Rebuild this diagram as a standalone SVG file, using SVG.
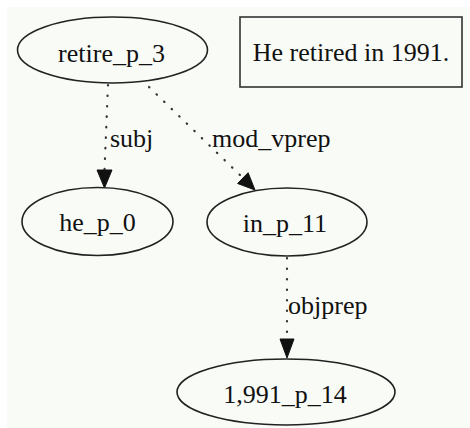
<svg xmlns="http://www.w3.org/2000/svg" width="470" height="428" viewBox="0 0 470 428">
  <style>
    .node ellipse { fill: none; stroke: #222; stroke-width: 1.6; }
    .box { fill: none; stroke: #333; stroke-width: 1.6; }
    text { font-family: "Liberation Serif", "Times New Roman", serif; font-size: 26px; fill: #111; }
    .lbl { text-anchor: middle; }
    .edge line { stroke: #333; stroke-width: 2.2; stroke-dasharray: 0.5 10; stroke-linecap: round; }
    .edge polygon { fill: #111; stroke: #111; stroke-width: 1; }
  </style>
  <rect x="0" y="0" width="470" height="428" fill="#ffffff"/>
  <rect x="7" y="7" width="463" height="421" fill="#f8fbf6"/>

  <g id="connectors">
    <g class="edge" id="e-subj">
      <line x1="108" y1="85" x2="104.5" y2="170"/>
      <polygon points="97,170 112,170 104.5,188"/>
      <text x="110" y="147">subj</text>
    </g>
    <g class="edge" id="e-mod_vprep">
      <line x1="149" y1="87" x2="241" y2="176"/>
      <polygon points="237.6,183.5 248.1,172.7 255,190"/>
      <text x="212" y="147">mod_vprep</text>
    </g>
    <g class="edge" id="e-objprep">
      <line x1="287" y1="258" x2="287" y2="338"/>
      <polygon points="280,339 294,339 287,358"/>
      <text x="288" y="314">objprep</text>
    </g>
  </g>

  <g class="node" id="retire_p_3">
    <ellipse cx="112.5" cy="50" rx="95" ry="33"/>
    <text class="lbl" x="111.5" y="62">retire_p_3</text>
  </g>
  <g class="node" id="he_p_0">
    <ellipse cx="97.5" cy="221.5" rx="75.5" ry="34"/>
    <text class="lbl" x="97.5" y="231">he_p_0</text>
  </g>
  <g class="node" id="in_p_11">
    <ellipse cx="287" cy="222" rx="80" ry="34"/>
    <text class="lbl" x="285" y="232">in_p_11</text>
  </g>
  <g class="node" id="n1991_p_14">
    <ellipse cx="286" cy="392" rx="109" ry="33"/>
    <text class="lbl" x="285" y="403">1,991_p_14</text>
  </g>
  <g id="sentence">
    <rect class="box" x="240" y="17" width="222" height="70"/>
    <text class="lbl" x="351" y="61">He retired in 1991.</text>
  </g>
</svg>
